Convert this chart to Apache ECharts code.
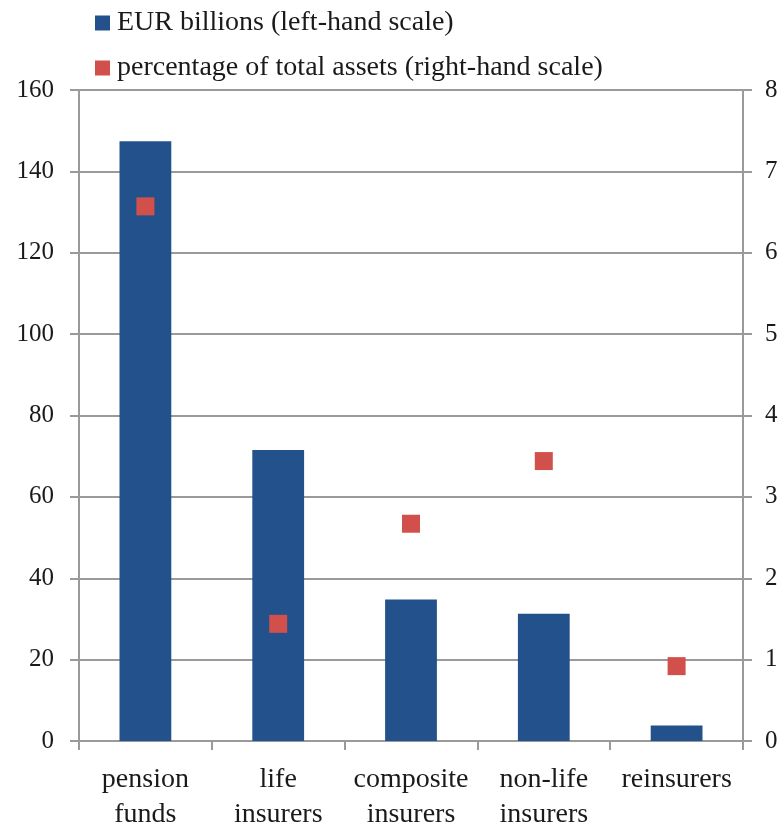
<!DOCTYPE html>
<html>
<head>
<meta charset="utf-8">
<script src="https://cdn.jsdelivr.net/npm/echarts@6/dist/echarts.min.js"></script>
<style>
html,body{margin:0;padding:0;background:#fff;}
#chart{width:784px;height:832px;}
</style>
</head>
<body>
<div id="chart"></div>
<script>
var categories = ['pension\nfunds', 'life\ninsurers', 'composite\ninsurers', 'non-life\ninsurers', 'reinsurers'];
var eurBillions = [147.4, 71.5, 34.8, 31.3, 3.8];
var pctTotalAssets = [6.57, 1.44, 2.67, 3.44, 0.92];
var leftTicks = {min: 0, max: 160, interval: 20};
var rightTicks = {min: 0, max: 8, interval: 1};
var seriesNames = ['EUR billions (left-hand scale)', 'percentage of total assets (right-hand scale)'];

var FONT = '"Liberation Serif", "DejaVu Serif", serif';
var AX = '#9a9a9a';
var TXT = '#1a1a1a';
var chart = echarts.init(document.getElementById('chart'), null, {renderer: 'canvas'});
chart.setOption({
  animation: false,
  backgroundColor: '#ffffff',
  textStyle: {fontFamily: FONT},
  legend: {
    orient: 'vertical',
    left: 95,
    top: 8,
    padding: 0,
    itemWidth: 15,
    itemHeight: 15,
    itemGap: 15,
    icon: 'rect',
    textStyle: {fontFamily: FONT, fontSize: 28, color: TXT, lineHeight: 30, padding: [0, 0, 0, 2]},
    data: seriesNames
  },
  grid: {left: 79, right: 41, top: 90, bottom: 87, containLabel: false},
  xAxis: {
    type: 'category',
    data: categories,
    axisLine: {show: true, lineStyle: {color: AX, width: 2}},
    axisTick: {show: true, alignWithLabel: false, length: 9, lineStyle: {color: AX, width: 2}},
    axisLabel: {interval: 0, fontFamily: FONT, fontSize: 28, color: TXT, lineHeight: 35, margin: 21}
  },
  yAxis: [
    {
      type: 'value',
      min: leftTicks.min, max: leftTicks.max, interval: leftTicks.interval,
      axisLine: {show: true, lineStyle: {color: AX, width: 2}},
      axisTick: {show: true, length: 9, lineStyle: {color: AX, width: 2}},
      splitLine: {show: true, lineStyle: {color: AX, width: 2}},
      axisLabel: {fontFamily: FONT, fontSize: 25, color: TXT, margin: 25}
    },
    {
      type: 'value',
      position: 'right',
      min: rightTicks.min, max: rightTicks.max, interval: rightTicks.interval,
      axisLine: {show: true, lineStyle: {color: AX, width: 2}},
      axisTick: {show: true, length: 9, lineStyle: {color: AX, width: 2}},
      splitLine: {show: false},
      axisLabel: {fontFamily: FONT, fontSize: 25, color: TXT, margin: 22}
    }
  ],
  series: [
    {
      name: seriesNames[0],
      type: 'bar',
      yAxisIndex: 0,
      barWidth: '39%',
      itemStyle: {color: '#22518b'},
      data: eurBillions,
      z: 2
    },
    {
      name: seriesNames[1],
      type: 'scatter',
      yAxisIndex: 1,
      symbol: 'rect',
      symbolSize: 18,
      itemStyle: {color: '#d2504c', opacity: 1},
      data: pctTotalAssets,
      z: 3
    }
  ]
});
</script>
</body>
</html>
